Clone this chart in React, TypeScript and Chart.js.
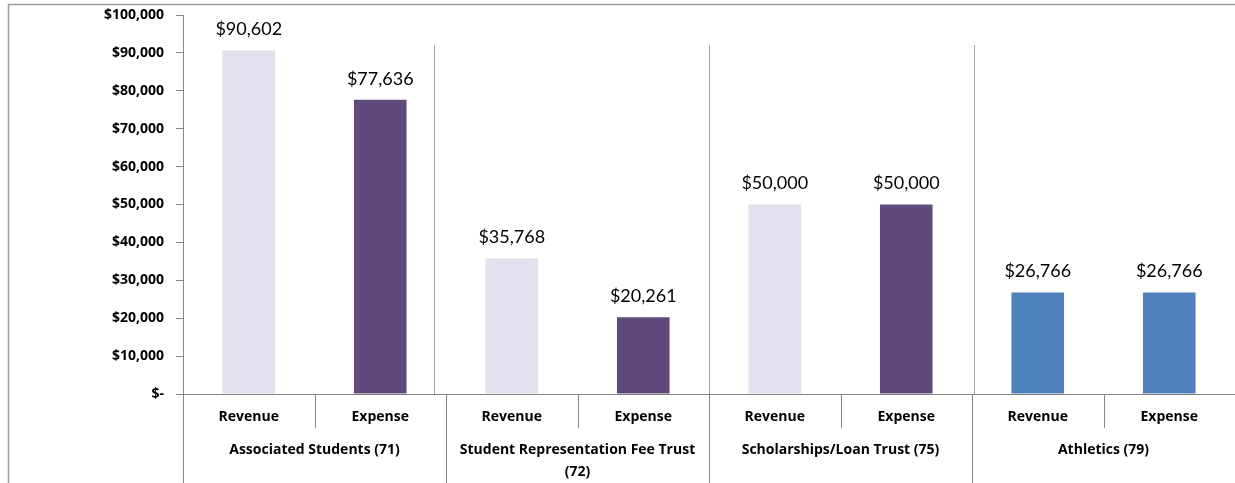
import React, { useEffect, useRef } from "react";
import { Chart, registerables } from "chart.js";

Chart.register(...registerables);

const subCategories = ["Revenue", "Expense", "Revenue", "Expense", "Revenue", "Expense", "Revenue", "Expense"];
const groupLabels: string[][] = [
  ["Associated Students (71)"],
  ["Student Representation Fee Trust", "(72)"],
  ["Scholarships/Loan Trust (75)"],
  ["Athletics (79)"],
];
const values = [90602, 77636, 35768, 20261, 50000, 50000, 26766, 26766];
const barColors = ["#E4DFEC", "#604A7B", "#E4DFEC", "#604A7B", "#E4DFEC", "#604A7B", "#4F81BD", "#4F81BD"];
const yMin = 0;
const yMax = 100000;
const yStep = 10000;
// group separators inside the plot area (category index positions)
const plotSeparators = [1.41, 3.5, 5.515];

const LABEL_FONT = "Lato, 'Open Sans', sans-serif";
const AXIS_FONT = "'Open Sans', 'Noto Sans', sans-serif";

const fmtMoney = (v: number) => (v === 0 ? "$-" : "$" + v.toLocaleString("en-US"));

const decorPlugin = {
  id: "decor",
  afterDatasetsDraw(chart: any) {
    const ctx = chart.ctx as CanvasRenderingContext2D;
    const area = chart.chartArea;
    const x = chart.scales.x;
    const H = chart.height;
    const W = chart.width;
    ctx.save();

    // data labels
    const meta = chart.getDatasetMeta(0);
    ctx.fillStyle = "#000";
    ctx.font = `400 18px ${LABEL_FONT}`;
    ctx.textAlign = "center";
    ctx.textBaseline = "bottom";
    meta.data.forEach((el: any, i: number) => {
      ctx.fillText(fmtMoney(values[i]), el.x, el.y - 12);
    });

    // plot group separators
    ctx.strokeStyle = "#A6A6A6";
    ctx.lineWidth = 1;
    plotSeparators.forEach((s) => {
      const px = Math.round(x.getPixelForValue(s)) + 0.5;
      ctx.beginPath();
      ctx.moveTo(px, area.top + 30);
      ctx.lineTo(px, area.bottom);
      ctx.stroke();
    });

    // x axis line
    ctx.strokeStyle = "#868686";
    const by = Math.round(area.bottom) + 0.5;
    ctx.beginPath();
    ctx.moveTo(area.left, by);
    ctx.lineTo(W, by);
    ctx.stroke();

    // category tick lines
    for (let i = 0; i <= subCategories.length; i++) {
      const px = Math.round(x.getPixelForValue(i - 0.5)) + 0.5;
      const outer = i % 2 === 0;
      ctx.beginPath();
      ctx.moveTo(px, by);
      ctx.lineTo(px, outer ? H : area.bottom + 34);
      ctx.stroke();
    }

    // sub category labels
    ctx.fillStyle = "#000";
    ctx.font = `700 14px ${AXIS_FONT}`;
    ctx.textBaseline = "middle";
    subCategories.forEach((c, i) => {
      ctx.fillText(c, x.getPixelForValue(i), area.bottom + 23);
    });

    // group labels
    groupLabels.forEach((lines, g) => {
      const cx = (x.getPixelForValue(g * 2) + x.getPixelForValue(g * 2 + 1)) / 2;
      lines.forEach((ln, k) => {
        ctx.fillText(ln, cx, area.bottom + 56 + k * 22);
      });
    });

    // outer frame
    ctx.strokeStyle = "#9A9A9A";
    ctx.lineWidth = 1.5;
    ctx.beginPath();
    ctx.moveTo(8.5, H + 2);
    ctx.lineTo(8.5, 4.5);
    ctx.lineTo(W + 2, 4.5);
    ctx.stroke();

    ctx.restore();
  },
};

export default function App() {
  const ref = useRef<HTMLCanvasElement | null>(null);
  useEffect(() => {
    if (!ref.current) return;
    const chart = new Chart(ref.current, {
      type: "bar",
      data: {
        labels: subCategories,
        datasets: [
          {
            data: values,
            backgroundColor: barColors,
            borderWidth: 0,
            categoryPercentage: 1,
            barPercentage: 0.4,
          },
        ],
      },
      options: {
        responsive: false,
        animation: false,
        devicePixelRatio: 1,
        layout: { padding: { top: 15, bottom: 89, left: 0, right: 0 } },
        plugins: { legend: { display: false }, tooltip: { enabled: false } },
        scales: {
          x: { type: "category", display: false, offset: true },
          y: {
            min: yMin,
            max: yMax,
            afterFit: (s: any) => {
              s.width = 183;
              s.paddingTop = 0;
              s.paddingBottom = 0;
            },
            border: { display: true, color: "#868686", width: 1 },
            grid: { drawOnChartArea: false, drawTicks: true, tickLength: 7, color: "#868686" },
            ticks: {
              stepSize: yStep,
              padding: 12,
              color: "#000",
              font: { family: AXIS_FONT, size: 14, weight: "bold" },
              callback: (v: any) => fmtMoney(Number(v)),
            },
          },
        },
      },
      plugins: [decorPlugin],
    });
    return () => chart.destroy();
  }, []);
  return (
    <div style={{ position: "absolute", left: 0, top: 0, width: 1235, height: 483, background: "#fff" }}>
      <canvas ref={ref} width={1235} height={483} style={{ width: 1235, height: 483 }} />
    </div>
  );
}
